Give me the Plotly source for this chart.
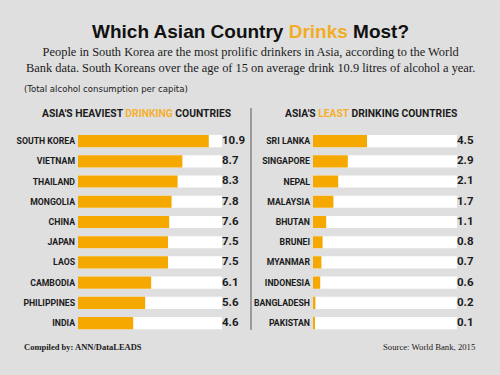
import plotly.graph_objects as go

# ---- data ----
heavy_countries = ["SOUTH KOREA", "VIETNAM", "THAILAND", "MONGOLIA", "CHINA",
                   "JAPAN", "LAOS", "CAMBODIA", "PHILIPPINES", "INDIA"]
heavy_values = [10.9, 8.7, 8.3, 7.8, 7.6, 7.5, 7.5, 6.1, 5.6, 4.6]

least_countries = ["SRI LANKA", "SINGAPORE", "NEPAL", "MALAYSIA", "BHUTAN",
                   "BRUNEI", "MYANMAR", "INDONESIA", "BANGLADESH", "PAKISTAN"]
least_values = [4.5, 2.9, 2.1, 1.7, 1.1, 0.8, 0.7, 0.6, 0.2, 0.1]

track_max = 12

# ---- style ----
W, H = 500, 375
BG = "#dfdfdf"
ORANGE = "#f5a900"
TXT = "#1b1b1b"
SANS = "Roboto, Liberation Sans, Arial, sans-serif"
COND = "DejaVu Sans Condensed, Roboto, sans-serif"
SERIF = "Liberation Serif, Times New Roman, serif"

def px_x(p):
    return p / W

def px_y(p):
    return 1 - p / H

fig = go.Figure()

def add_panel(names, vals, xa, ya):
    idx = list(range(len(names)))
    fig.add_trace(go.Bar(
        x=[track_max] * len(vals), y=idx, orientation="h",
        marker=dict(color="white", line=dict(width=0)), width=0.6,
        xaxis=xa, yaxis=ya, hoverinfo="skip", showlegend=False))
    fig.add_trace(go.Bar(
        x=vals, y=idx, orientation="h",
        marker=dict(color=ORANGE, line=dict(width=0)), width=0.6,
        xaxis=xa, yaxis=ya, showlegend=False))
    fig.add_trace(go.Scatter(
        x=[track_max] * len(vals), y=idx, mode="text",
        text=[f"{v:.1f}" for v in vals], textposition="middle right",
        textfont=dict(family=SANS, size=11.5, color=TXT, weight="bold"),
        xaxis=xa, yaxis=ya, cliponaxis=False, hoverinfo="skip", showlegend=False))

add_panel(heavy_countries, heavy_values, "x", "y")
add_panel(least_countries, least_values, "x2", "y2")

ydom = [px_y(333.2), px_y(131.0)]
common_x = dict(range=[0, track_max], showgrid=False, zeroline=False,
                showticklabels=False, fixedrange=True)
common_y = dict(range=[9.5, -0.5], domain=ydom, showgrid=False, zeroline=False,
                tickmode="array", tickvals=list(range(10)), ticks="",
                ticklabelstandoff=2, fixedrange=True,
                tickfont=dict(family=SANS, size=8.7, color=TXT, weight="bold"))

fig.update_layout(
    width=W, height=H,
    margin=dict(l=0, r=0, t=0, b=0),
    paper_bgcolor=BG, plot_bgcolor="rgba(0,0,0,0)",
    barmode="overlay",
    xaxis=dict(domain=[px_x(78), px_x(222)], **common_x),
    xaxis2=dict(domain=[px_x(313), px_x(457)], **common_x),
    yaxis=dict(anchor="x", ticktext=heavy_countries, **common_y),
    yaxis2=dict(anchor="x2", ticktext=least_countries, **common_y),
)

ann = []
ann.append(dict(text="<b>Which Asian Country <span style='color:#f2ad24'>Drinks</span> Most?</b>",
                x=0.5, y=px_y(31), xanchor="center", yanchor="middle",
                font=dict(family="Liberation Sans, Arial, sans-serif", size=19, color="#111")))
ann.append(dict(text="People in South Korea are the most prolific drinkers in Asia, according to the World<br>"
                     "Bank data. South Koreans over the age of 15 on average drink 10.9 litres of alcohol a year.",
                x=0.5, y=px_y(60), xanchor="center", yanchor="middle", align="center",
                font=dict(family=SERIF, size=12.4, color=TXT)))
ann.append(dict(text="(Total alcohol consumption per capita)",
                x=px_x(22), y=px_y(88), xanchor="left", yanchor="middle",
                font=dict(family=COND, size=9.5, color=TXT)))
ann.append(dict(text="<b>ASIA'S HEAVIEST <span style='color:#f5b030'>DRINKING</span> COUNTRIES</b>",
                x=px_x(136), y=px_y(113), xanchor="center", yanchor="middle",
                font=dict(family=SANS, size=10.3, color=TXT)))
ann.append(dict(text="<b>ASIA'S <span style='color:#f5b030'>LEAST</span> DRINKING COUNTRIES</b>",
                x=px_x(371), y=px_y(113), xanchor="center", yanchor="middle",
                font=dict(family=SANS, size=10.3, color=TXT)))
ann.append(dict(text="<b>Compiled by: ANN/DataLEADS</b>",
                x=px_x(22), y=px_y(347), xanchor="left", yanchor="middle",
                font=dict(family=SERIF, size=8.5, color=TXT)))
ann.append(dict(text="Source: World Bank, 2015",
                x=px_x(477), y=px_y(347), xanchor="right", yanchor="middle",
                font=dict(family=SERIF, size=8.7, color=TXT)))
for a in ann:
    a.update(xref="paper", yref="paper", showarrow=False)
fig.update_layout(annotations=ann)

fig.add_shape(type="line", xref="paper", yref="paper",
              x0=px_x(251), x1=px_x(251), y0=px_y(108), y1=px_y(330),
              line=dict(color="#555", width=1))

fig.write_html("out.html", config={"displayModeBar": False},
               post_script="document.body.style.margin='0';")
